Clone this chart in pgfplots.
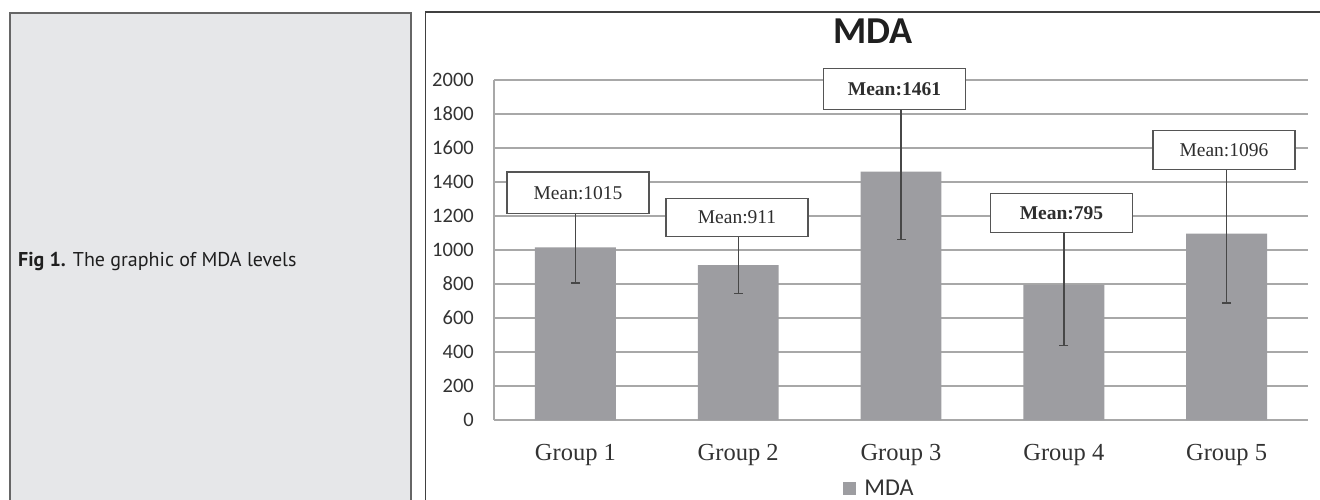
\documentclass[border=0pt]{standalone}
\usepackage{fontspec}
\setmainfont{Liberation Serif}
\newfontfamily\calibri{Carlito}
\newfontfamily\capfont{PT Sans}
\usepackage{graphicx}
\usepackage{pgfplots}
\pgfplotsset{compat=1.18}

\definecolor{panelgray}{HTML}{E6E7E9}
\definecolor{barcol}{HTML}{9D9DA1}
\definecolor{gridcol}{HTML}{A8A8A8}
\definecolor{errcol}{HTML}{474747}
\definecolor{boxcol}{HTML}{555555}
\definecolor{tickcol}{HTML}{333333}

\begin{document}
\begin{tikzpicture}
% page is 1320 x 499 (1pt ~ 1px)
\path[use as bounding box, fill=white] (0,0) rectangle (1320pt,499pt);

% left caption panel
\draw[fill=panelgray, draw=black!60, line width=1.2pt] (10pt,-5pt) rectangle (411pt,486pt);
\node[anchor=base west, inner sep=0] at (18pt,232.3pt)
  {\capfont\fontsize{20}{22}\selectfont\color{black!88}\textbf{Fig 1.} The graphic of MDA levels};

% right chart panel
\draw[draw=black!75, line width=1.2pt] (425.5pt,-5pt) rectangle (1330pt,487pt);
\node[anchor=base, inner sep=0] at (873pt,455pt)
  {\calibri\bfseries\fontsize{38}{40}\selectfont\color{black!88}MDA};

\begin{axis}[
    at={(494pt,79pt)}, anchor=south west,
    scale only axis,
    width=814pt, height=340pt,
    xmin=-0.5, xmax=4.5,
    ymin=0, ymax=2000,
    xtick={0,1,2,3,4},
    xticklabels={Group 1,Group 2,Group 3,Group 4,Group 5},
    ytick={0,200,...,2000},
    axis x line*=bottom, axis y line*=left,
    axis line style={gridcol, line width=1.5pt},
    major tick length=0pt,
    ymajorgrids,
    grid style={gridcol, line width=1.3pt},
    /pgf/number format/assume math mode=true,
    /pgf/number format/1000 sep={},
    yticklabel style={font=\calibri\fontsize{20.5}{22}\selectfont, text=tickcol, inner sep=0pt, xshift=-20pt},
    xticklabel style={font=\fontsize{24.5}{26}\selectfont, text=tickcol, inner sep=0pt, anchor=base, yshift=-40.7pt},
    legend style={at={(0.473,-0.200)}, anchor=center, draw=none, fill=none,
        inner sep=0pt, nodes={inner sep=1pt}, text=tickcol},
    legend image code/.code={\fill[barcol] (0pt,-6.5pt) rectangle (13pt,6.5pt);},
    clip=false,
]

\addplot[ybar, bar width=0.497, fill=barcol, draw=none,
    error bars/.cd, y dir=both, y explicit,
    error bar style={errcol, line width=1.4pt},
    error mark options={errcol, line width=1.4pt, mark size=4.5pt, rotate=90}]
coordinates {
    (0,1015) +- (0,210)
    (1,911)  +- (0,168)
    (2,1461) +- (0,400)
    (3,795)  +- (0,358)
    (4,1096) +- (0,408)
};
\addlegendentry{\hspace{7pt}\resizebox{!}{15.5pt}{\calibri MDA}}

% mean labels
\tikzset{meanbox/.style={draw=boxcol, line width=1.3pt, fill=white, anchor=south,
    minimum width=142pt, inner sep=0pt, font=\fontsize{19.5}{21}\selectfont, text=black!82}}
\node[meanbox, minimum height=41.6pt] at (axis cs:0.016,1210) {Mean:1015};
\node[meanbox, minimum height=38pt]   at (axis cs:0.993,1076) {Mean:911};
\node[meanbox, minimum height=41pt]   at (axis cs:1.960,1824) {\bfseries Mean:1461};
\node[meanbox, minimum height=39pt]   at (axis cs:2.986,1100) {\bfseries Mean:795};
\node[meanbox, minimum height=39pt]   at (axis cs:3.984,1471) {Mean:1096};
\end{axis}
\end{tikzpicture}
\end{document}
